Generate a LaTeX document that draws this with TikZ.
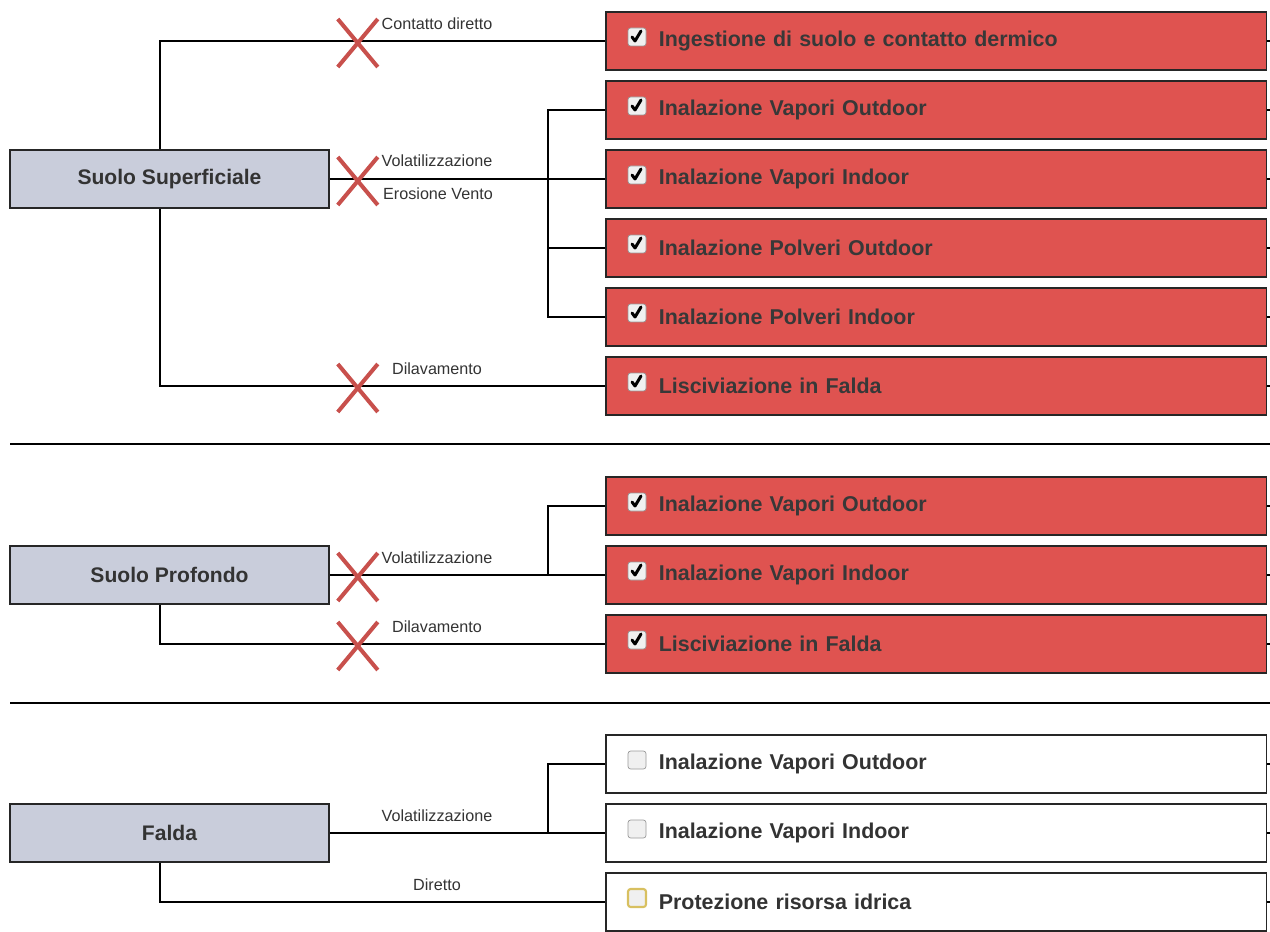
\documentclass[tikz,border=0pt]{standalone}
\usepackage{fontspec}
\setmainfont{Liberation Sans}
\usetikzlibrary{positioning,calc}
\definecolor{srcfill}{HTML}{C9CDDB}
\definecolor{riskred}{HTML}{DF5350}
\definecolor{crossred}{HTML}{C8504C}
\definecolor{dark}{HTML}{333333}
\definecolor{chkyellow}{HTML}{D8C060}

\tikzset{
  srcbox/.style={draw=black!85,line width=0.9pt,fill=srcfill,minimum width=6.38cm,
    minimum height=1.16cm,font=\fontsize{12}{14}\selectfont\bfseries,text=dark},
  pathbox/.style={draw=black!85,line width=0.9pt,fill=riskred,anchor=west,
    text width=11.1cm,inner xsep=1.06cm,minimum height=1.16cm,align=left,
    font=\fontsize{12.2}{14}\selectfont\bfseries,text=black!78},
  pathoff/.style={pathbox,fill=white,text=dark},
  chk/.style={draw=black!40,fill=black!6,rounded corners=1.5pt,minimum size=0.36cm,inner sep=0pt},
  tick/.style={line width=1.7pt,line cap=round,line join=round},
  wire/.style={line width=0.8pt},
  elabel/.style={font=\fontsize{9.2}{10}\selectfont,text=dark,inner sep=0pt},
  cross/.style={crossred,line width=2.3pt},
  xmark/.pic={\draw[cross] (-20,-24) -- (20,24) (-20,24) -- (20,-24);}
}

\begin{document}
\begin{tikzpicture}[x=0.02cm,y=-0.02cm]
  \useasboundingbox (0,0) rectangle (1270,932);

  % sorgenti
  \node[srcbox] (ss) at (169.5,179) {Suolo Superficiale};
  \node[srcbox] (sp) at (169.5,575) {Suolo Profondo};
  \node[srcbox] (fa) at (169.5,833) {Falda};

  % percorsi
  \foreach \i/\yy/\txt/\sty in {%
    1/41/{Ingestione di suolo e contatto dermico}/pathbox,
    2/110/{Inalazione Vapori Outdoor}/pathbox,
    3/179/{Inalazione Vapori Indoor}/pathbox,
    4/248/{Inalazione Polveri Outdoor}/pathbox,
    5/317/{Inalazione Polveri Indoor}/pathbox,
    6/386/{Lisciviazione in Falda}/pathbox,
    7/506/{Inalazione Vapori Outdoor}/pathbox,
    8/575/{Inalazione Vapori Indoor}/pathbox,
    9/644/{Lisciviazione in Falda}/pathbox,
    10/764/{Inalazione Vapori Outdoor}/pathoff,
    11/833/{Inalazione Vapori Indoor}/pathoff,
    12/902/{Protezione risorsa idrica}/pathoff%
  }{
    \node[\sty] (r\i) at (605,\yy) {\txt};
    \draw[wire] (r\i.east) -- ++(4,0);
  }

  % caselle
  \foreach \i in {1,...,9}{
    \node[chk] (c\i) at ($(r\i.west)+(32,-4)$) {};
    \draw[tick] ($(c\i.center)+(-5,0)$) -- ++(3,4) -- ++(6,-10);
  }
  \node[chk] (c10) at ($(r10.west)+(32,-4)$) {};
  \node[chk] (c11) at ($(r11.west)+(32,-4)$) {};
  \node[chk,draw=chkyellow,line width=1.2pt] (c12) at ($(r12.west)+(32,-4)$) {};

  \coordinate (bus) at (548,0);

  % suolo superficiale
  \draw[wire] ($(ss.north)+(-9.5,0)$) |- (r1.west);
  \draw[wire] (ss.east) -- (r3.west);
  \draw[wire] (r2.west) -- (r2.west -| bus) |- (r5.west);
  \draw[wire] (r4.west -| bus) -- (r4.west);
  \draw[wire] ($(ss.south)+(-9.5,0)$) |- (r6.west);
  \pic at ($(ss.east |- r1.west)+(28,2)$) {xmark};
  \pic at ($(ss.east)+(28,2)$) {xmark};
  \pic at ($(ss.east |- r6.west)+(28,2)$) {xmark};
  \node[elabel] (l1) at (437,24) {Contatto diretto};
  \node[elabel] (l2) at (437,161) {Volatilizzazione};
  \node[elabel] (l3) at (438,194) {Erosione Vento};
  \node[elabel] (l4) at (437,369) {Dilavamento};

  \draw[wire] (10,444) -- (1270,444);

  % suolo profondo
  \draw[wire] (sp.east) -- (r8.west);
  \draw[wire] (r7.west) -- (r7.west -| bus) -- (r8.west -| bus);
  \draw[wire] ($(sp.south)+(-9.5,0)$) |- (r9.west);
  \pic at ($(sp.east)+(28,2)$) {xmark};
  \pic at ($(sp.east |- r9.west)+(28,2)$) {xmark};
  \node[elabel] (l5) at (437,558) {Volatilizzazione};
  \node[elabel] (l6) at (437,627) {Dilavamento};

  \draw[wire] (10,703) -- (1270,703);

  % falda
  \draw[wire] (fa.east) -- (r11.west);
  \draw[wire] (r10.west) -- (r10.west -| bus) -- (r11.west -| bus);
  \draw[wire] ($(fa.south)+(-9.5,0)$) |- (r12.west);
  \node[elabel] (l7) at (437,816) {Volatilizzazione};
  \node[elabel] (l8) at (437,885) {Diretto};
\end{tikzpicture}
\end{document}
